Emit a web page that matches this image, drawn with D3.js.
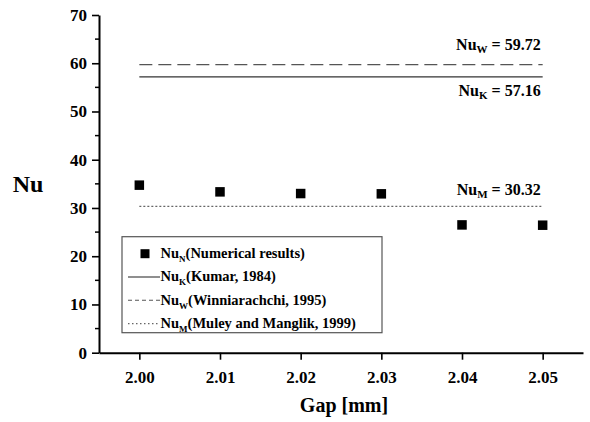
<html>
<head>
<meta charset="utf-8">
<script src="https://cdn.jsdelivr.net/npm/d3@7"></script>
</head>
<body style="margin:0">
<script>
// numerical results (squares)
const gaps = [2.00, 2.01, 2.02, 2.03, 2.04, 2.05];
const nuNumerical = [34.73, 33.34, 32.99, 32.93, 26.49, 26.43];

// correlations (horizontal reference lines)
const refNames = ["K", "W", "M"];
const refValues = [57.16, 59.72, 30.32];
const refLegend = ["(Kumar, 1984)", "(Winniarachchi, 1995)", "(Muley and Manglik, 1999)"];

const xTicks = [2.00, 2.01, 2.02, 2.03, 2.04, 2.05];
const yTicks = [0, 10, 20, 30, 40, 50, 60, 70];
const yMinorTicks = [5, 15, 25, 35, 45, 55, 65];

const width = 590, height = 422;
const margin = { top: 15, right: 7, bottom: 69.3, left: 99 };
const FONT = "Liberation Serif";

const svg = d3.select("body").append("svg")
  .attr("width", width)
  .attr("height", height);

const x = d3.scaleLinear().domain([1.995, 2.055]).range([margin.left, width - margin.right]);
const y = d3.scaleLinear().domain([0, 70]).range([height - margin.bottom, margin.top]);

// style per reference line
const lineStyle = {
  K: { dash: null, color: "#333", width: 1.3 },
  W: { dash: "13,6", color: "#555", width: 1.3 },
  M: { dash: "2,2", color: "#666", width: 1.3 }
};

// reference lines
const g = svg.append("g");
refNames.forEach((name, i) => {
  const st = lineStyle[name];
  g.append("line")
    .attr("x1", x(gaps[0]))
    .attr("x2", x(gaps[gaps.length - 1]))
    .attr("y1", y(refValues[i]))
    .attr("y2", y(refValues[i]))
    .attr("stroke", st.color)
    .attr("stroke-width", st.width)
    .attr("stroke-dasharray", st.dash);
});

// right side labels
const labelOffset = { K: 19.5, W: -15, M: -11 };
refNames.forEach((name, i) => {
  const t = g.append("text")
    .attr("x", x(gaps[gaps.length - 1]) - 2)
    .attr("y", y(refValues[i]) + labelOffset[name])
    .attr("text-anchor", "end")
    .attr("font-size", 16);
  t.append("tspan").text("Nu");
  t.append("tspan").attr("font-size", 11).attr("dy", 3).text(name);
  t.append("tspan").attr("dy", -3).text(" = " + refValues[i].toFixed(2));
});

// squares
const sz = 9.5;
g.selectAll("rect.pt")
  .data(gaps)
  .join("rect")
  .attr("class", "pt")
  .attr("x", d => x(d) - sz / 2)
  .attr("y", (d, i) => y(nuNumerical[i]) - sz / 2)
  .attr("width", sz)
  .attr("height", sz)
  .attr("fill", "#000");

// axes
const yAxis = svg.append("g")
  .attr("transform", `translate(${margin.left},0)`)
  .call(d3.axisLeft(y).tickValues(yTicks).tickSize(7).tickSizeOuter(0).tickPadding(5).tickFormat(d3.format("d")));
yAxis.selectAll(".minor")
  .data(yMinorTicks)
  .join("line")
  .attr("class", "minor")
  .attr("x1", -4).attr("x2", 0)
  .attr("y1", d => y(d)).attr("y2", d => y(d))
  .attr("stroke", "#000").attr("stroke-width", 1.5);

const xAxis = svg.append("g")
  .attr("transform", `translate(0,${height - margin.bottom})`)
  .call(d3.axisBottom(x).tickValues(xTicks).tickSize(7).tickSizeOuter(0).tickPadding(11).tickFormat(d3.format(".2f")));

[yAxis, xAxis].forEach(a => {
  a.attr("font-family", FONT);
  a.select(".domain").attr("stroke", "#000").attr("stroke-width", 2);
  a.selectAll(".tick line").attr("stroke", "#000").attr("stroke-width", 1.6);
  a.selectAll(".tick text").attr("fill", "#000").attr("font-size", 17);
});

// axis titles
svg.append("text")
  .attr("x", 28).attr("y", 192)
  .attr("text-anchor", "middle")
  .attr("font-size", 24)
  .text("Nu");
svg.append("text")
  .attr("x", (margin.left + width - margin.right) / 2 + 3)
  .attr("y", 412)
  .attr("text-anchor", "middle")
  .attr("font-size", 20)
  .text("Gap [mm]");

// legend
const legend = svg.append("g").attr("transform", "translate(122,236.7)");
legend.append("rect")
  .attr("width", 260).attr("height", 96)
  .attr("fill", "#fff")
  .attr("stroke", "#555").attr("stroke-width", 1.2);

const legendRows = [{ name: "N", text: "(Numerical results)", square: true }]
  .concat(refNames.map((n, i) => ({ name: n, text: refLegend[i] })));

legendRows.forEach((r, i) => {
  const cy = 17 + i * 23.3;
  if (r.square) {
    legend.append("rect")
      .attr("x", 23 - 4.5).attr("y", cy - 4.5)
      .attr("width", 9).attr("height", 9)
      .attr("fill", "#000");
  } else {
    const st = lineStyle[r.name];
    legend.append("line")
      .attr("x1", 6).attr("x2", 38)
      .attr("y1", cy).attr("y2", cy)
      .attr("stroke", st.color)
      .attr("stroke-width", 1.1)
      .attr("stroke-dasharray", r.name === "W" ? "4,3" : r.name === "M" ? "1.5,2.5" : null);
  }
  const t = legend.append("text")
    .attr("x", 38.5).attr("y", cy + 4.5)
    .attr("font-size", 14.5);
  t.append("tspan").text("Nu");
  t.append("tspan").attr("font-size", 9).attr("dy", 4).text(r.name);
  t.append("tspan").attr("dy", -4).text(r.text);
});

// font on every text node directly
svg.selectAll("text")
  .attr("font-family", FONT)
  .attr("font-weight", "bold")
  .style("font-family", FONT, "important")
  .style("font-weight", "bold", "important");
</script>
</body>
</html>
